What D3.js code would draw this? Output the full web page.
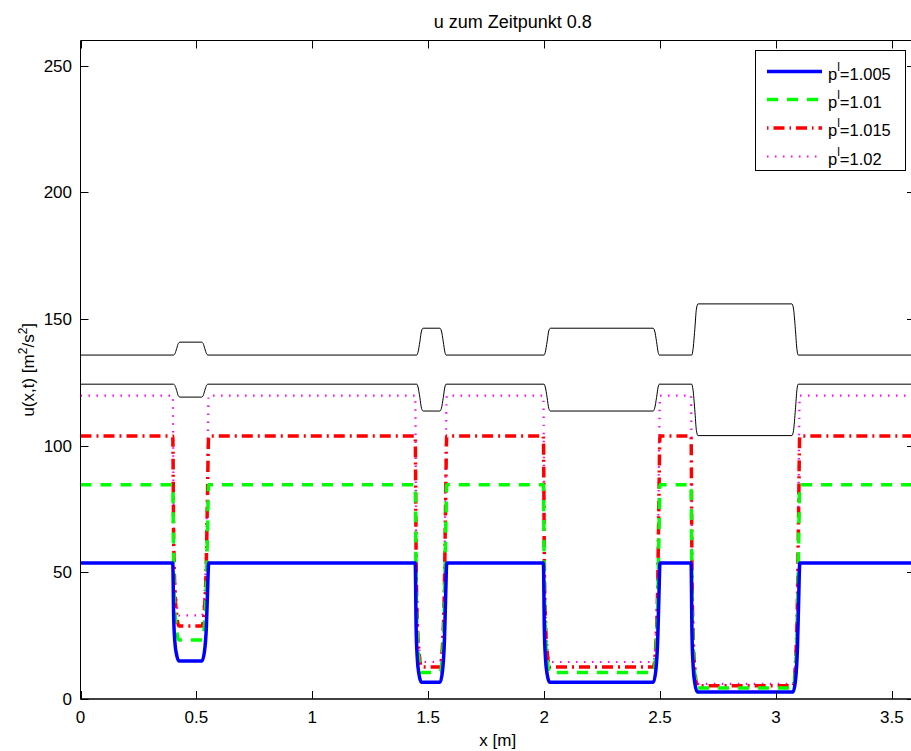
<!DOCTYPE html>
<html>
<head>
<meta charset="utf-8">
<script src="https://cdn.jsdelivr.net/npm/d3@7"></script>
<style>
	body { margin: 0; background: #fff; }
	text { font-family: "Liberation Sans", Arial, sans-serif; }
</style>
</head>
<body>
<div id="chart"></div>
<script>

// DATA
// x grid shared by the four coloured curves (start, dips, end)
const xColor = [
	0,
	0.398, 0.402, 0.407, 0.414, 0.425, 0.524, 0.535, 0.543, 0.548, 0.553,
	1.444, 1.448, 1.453, 1.460, 1.471, 1.551, 1.562, 1.570, 1.575, 1.580,
	1.997, 2.001, 2.006, 2.013, 2.024, 2.471, 2.482, 2.490, 2.495, 2.500,
	2.634, 2.638, 2.643, 2.650, 2.661, 3.074, 3.085, 3.093, 3.098, 3.103,
	3.6
];
const u1005 = [
	53.7,
	53.7, 32.4, 22.7, 17.7, 15.0, 15.0, 18.9, 28.5, 42.1, 53.7,
	53.7, 27.8, 16.0, 9.9, 6.6, 6.6, 11.3, 23.1, 39.6, 53.7,
	53.7, 27.8, 16.0, 9.9, 6.6, 6.6, 11.3, 23.1, 39.6, 53.7,
	53.7, 25.7, 12.9, 6.4, 2.8, 2.8, 7.9, 20.6, 38.4, 53.7,
	53.7
];
const u101 = [
	84.6,
	84.6, 50.9, 35.6, 27.6, 23.3, 23.3, 29.4, 44.8, 66.2, 84.6,
	84.6, 43.9, 25.3, 15.7, 10.5, 10.5, 17.9, 36.4, 62.4, 84.6,
	84.6, 43.9, 25.3, 15.7, 10.5, 10.5, 17.9, 36.4, 62.4, 84.6,
	84.6, 40.4, 20.4, 9.9, 4.3, 4.3, 12.3, 32.4, 60.5, 84.6,
	84.6
];
const u1015 = [
	103.8,
	103.8, 62.5, 43.8, 34.1, 28.8, 28.8, 36.3, 55.1, 81.3, 103.8,
	103.8, 53.6, 30.8, 19.0, 12.6, 12.6, 21.7, 44.5, 76.4, 103.8,
	103.8, 53.6, 30.8, 19.0, 12.6, 12.6, 21.7, 44.5, 76.4, 103.8,
	103.8, 49.6, 24.9, 12.1, 5.2, 5.2, 15.1, 39.7, 74.2, 103.8,
	103.8
];
const u102 = [
	119.8,
	119.8, 72.1, 50.4, 39.1, 33.0, 33.0, 41.7, 63.4, 93.8, 119.8,
	119.8, 61.9, 35.6, 22.0, 14.6, 14.6, 25.1, 51.4, 88.2, 119.8,
	119.8, 61.9, 35.6, 22.0, 14.6, 14.6, 25.1, 51.4, 88.2, 119.8,
	119.8, 57.2, 28.8, 14.0, 6.0, 6.0, 17.4, 45.8, 85.7, 119.8,
	119.8
];

// x grid of the two thin black bound curves
const xBound = [
	0,
	0.402, 0.407, 0.415, 0.422, 0.429, 0.522, 0.529, 0.536, 0.544, 0.549,
	1.451, 1.456, 1.464, 1.471, 1.478, 1.550, 1.557, 1.565, 1.572, 1.577,
	2.000, 2.005, 2.013, 2.020, 2.027, 2.470, 2.477, 2.485, 2.492, 2.497,
	2.637, 2.642, 2.650, 2.657, 2.664, 3.069, 3.076, 3.084, 3.091, 3.096,
	3.6
];
const upperBound = [
	135.8,
	135.8, 136.3, 138.4, 140.4, 140.9, 140.9, 140.4, 138.4, 136.3, 135.8,
	135.8, 136.9, 141.1, 145.3, 146.4, 146.4, 145.3, 141.1, 136.9, 135.8,
	135.8, 136.9, 141.1, 145.3, 146.4, 146.4, 145.3, 141.1, 136.9, 135.8,
	135.8, 137.8, 145.9, 154.0, 156.0, 156.0, 154.0, 145.9, 137.8, 135.8,
	135.8
];
const lowerBound = [
	124.3,
	124.3, 123.8, 121.8, 119.7, 119.2, 119.2, 119.7, 121.8, 123.8, 124.3,
	124.3, 123.2, 119.0, 114.8, 113.7, 113.7, 114.8, 119.0, 123.2, 124.3,
	124.3, 123.2, 119.0, 114.8, 113.7, 113.7, 114.8, 119.0, 123.2, 124.3,
	124.3, 122.3, 114.2, 106.0, 104.0, 104.0, 106.0, 114.2, 122.3, 124.3,
	124.3
];

const legendLabels = ["1.005", "1.01", "1.015", "1.02"];
const xTicks = [0, 0.5, 1, 1.5, 2, 2.5, 3, 3.5];
const yTicks = [0, 50, 100, 150, 200, 250];


// CHART
function drawChart() {
	const w = 911;
	const h = 751;
	const left = 80.5;
	const right = 915;
	const top = 40.5;
	const bottom = 699;

	const xScale = d3.scaleLinear().domain([0, 3.6]).range([left, right]);
	const yScale = d3.scaleLinear().domain([0, 260]).range([bottom, top]);

	const svg = d3.select("#chart")
		.append("svg")
		.attr("width", w)
		.attr("height", h);

	svg.append("rect").attr("width", w).attr("height", h).attr("fill", "#fff");

	svg.append("clipPath").attr("id", "clip")
		.append("rect")
		.attr("x", left).attr("y", top)
		.attr("width", right - left).attr("height", bottom - top);

	const line = d3.line()
		.x(d => xScale(d[0]))
		.y(d => yScale(d[1]))
		.curve(d3.curveMonotoneX);

	const plot = svg.append("g").attr("clip-path", "url(#clip)");

	// thin black bounds
	[upperBound, lowerBound].forEach(vals => {
		plot.append("path")
			.datum(xBound.map((x, i) => [x, vals[i]]))
			.attr("fill", "none")
			.attr("stroke", "#000")
			.attr("stroke-width", 1)
			.attr("d", line);
	});

	// coloured series, drawn so blue ends on top
	const series = [
		{ vals: u102, color: "#ff00ff", width: 2.2, dash: "1.5,6.5" },
		{ vals: u1015, color: "#ff0000", width: 3.5, dash: "11,5,2,5" },
		{ vals: u101, color: "#00ff00", width: 3.5, dash: "11,9" },
		{ vals: u1005, color: "#0000ff", width: 3.5, dash: null }
	];
	series.forEach(s => {
		plot.append("path")
			.datum(xColor.map((x, i) => [x, s.vals[i]]))
			.attr("fill", "none")
			.attr("stroke", s.color)
			.attr("stroke-width", s.width)
			.attr("stroke-dasharray", s.dash)
			.attr("d", line);
	});

	// axes box with inward ticks (matlab style)
	const axes = svg.append("g").attr("stroke", "#000").attr("stroke-width", 1);
	axes.append("line").attr("x1", left).attr("x2", right).attr("y1", bottom).attr("y2", bottom).attr("stroke-width", 1.6);
	axes.append("line").attr("x1", left).attr("x2", right).attr("y1", top).attr("y2", top);
	axes.append("line").attr("x1", left).attr("x2", left).attr("y1", top).attr("y2", bottom);
	axes.append("line").attr("x1", right).attr("x2", right).attr("y1", top).attr("y2", bottom);

	xTicks.forEach(t => {
		const x = Math.round(xScale(t)) + 0.5;
		axes.append("line").attr("x1", x).attr("x2", x).attr("y1", bottom).attr("y2", bottom - 8);
		axes.append("line").attr("x1", x).attr("x2", x).attr("y1", top).attr("y2", top + 8);
	});
	yTicks.forEach(t => {
		const y = Math.round(yScale(t)) + 0.5;
		axes.append("line").attr("x1", left).attr("x2", left + 8).attr("y1", y).attr("y2", y);
		axes.append("line").attr("x1", right).attr("x2", right - 8).attr("y1", y).attr("y2", y);
	});

	// tick labels
	svg.append("g").selectAll("text")
		.data(xTicks).join("text")
		.attr("x", d => xScale(d))
		.attr("y", 723)
		.attr("text-anchor", "middle")
		.attr("font-size", 17)
		.text(d => d);
	svg.append("g").selectAll("text")
		.data(yTicks).join("text")
		.attr("x", 72)
		.attr("y", d => yScale(d) + 6)
		.attr("text-anchor", "end")
		.attr("font-size", 17)
		.text(d => d);

	// title and axis labels
	svg.append("text")
		.attr("x", (left + right) / 2 + 15).attr("y", 28)
		.attr("text-anchor", "middle").attr("font-size", 18)
		.text("u zum Zeitpunkt 0.8");
	svg.append("text")
		.attr("x", (left + right) / 2).attr("y", 746)
		.attr("text-anchor", "middle").attr("font-size", 17)
		.text("x [m]");
	const yl = svg.append("text")
		.attr("transform", `translate(34, ${(top + bottom) / 2}) rotate(-90)`)
		.attr("text-anchor", "middle").attr("font-size", 17);
	yl.append("tspan").text("u(x,t) [m");
	yl.append("tspan").attr("font-size", 12).attr("dy", -7).text("2");
	yl.append("tspan").attr("dy", 7).text("/s");
	yl.append("tspan").attr("font-size", 12).attr("dy", -7).text("2");
	yl.append("tspan").attr("dy", 7).text("]");

	// legend
	const lg = svg.append("g");
	lg.append("rect")
		.attr("x", 755.5).attr("y", 50.5)
		.attr("width", 150).attr("height", 120)
		.attr("fill", "#fff").attr("stroke", "#000").attr("stroke-width", 1);
	const rows = [
		{ color: "#0000ff", width: 3.5, dash: null },
		{ color: "#00ff00", width: 3.5, dash: "11,9" },
		{ color: "#ff0000", width: 3.5, dash: "1.5,5,11,5" },
		{ color: "#ff00ff", width: 2.2, dash: "1.5,6.5" }
	];
	const rowY = [71.5, 99.5, 128, 156.5];
	rows.forEach((r, i) => {
		lg.append("line")
			.attr("x1", 767).attr("x2", 822)
			.attr("y1", rowY[i]).attr("y2", rowY[i])
			.attr("stroke", r.color).attr("stroke-width", r.width)
			.attr("stroke-dasharray", r.dash);
		const t = lg.append("text")
			.attr("x", 828).attr("y", rowY[i] + 8)
			.attr("font-size", 16.5);
		t.append("tspan").text("p");
		t.append("tspan").attr("font-size", 12).attr("dy", -9).text("l");
		t.append("tspan").attr("dy", 9).text("=" + legendLabels[i]);
	});
}

document.addEventListener('DOMContentLoaded', () => {
	drawChart();
});
</script>
</body>
</html>
